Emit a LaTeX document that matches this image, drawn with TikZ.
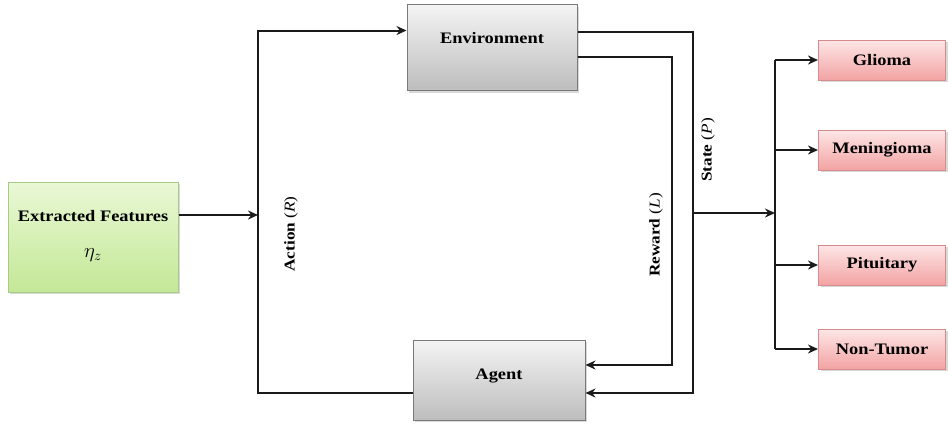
\documentclass[tikz,border=0pt]{standalone}
\usepackage{fontspec}
\setmainfont[FakeStretch=1.15]{Liberation Serif}
\usetikzlibrary{arrows.meta,shadows}
\definecolor{lineC}{HTML}{1A1A1A}
\definecolor{greyTop}{HTML}{F4F4F4}
\definecolor{greyBot}{HTML}{BDBDBD}
\definecolor{greyBd}{HTML}{7A7A7A}
\definecolor{greenTop}{HTML}{EAF8D6}
\definecolor{greenBot}{HTML}{C3E896}
\definecolor{greenBd}{HTML}{A8C98A}
\definecolor{pinkTop}{HTML}{FDE6E6}
\definecolor{pinkBot}{HTML}{F3A3A3}
\definecolor{pinkBd}{HTML}{D68C8C}
\tikzset{
  boxbase/.style={rectangle, line width=1pt, inner sep=2pt, align=center,
    font=\fontsize{16}{18}\selectfont\bfseries,
    drop shadow={shadow xshift=2pt, shadow yshift=-2pt, opacity=0.3}},
  greybox/.style={boxbase, draw=greyBd, top color=greyTop, bottom color=greyBot,
    minimum width=170pt, minimum height=86pt},
  agentbox/.style={boxbase, draw=greyBd, top color=greyTop, bottom color=greyBot,
    minimum width=172pt, minimum height=80pt},
  greenbox/.style={boxbase, draw=greenBd, top color=greenTop, bottom color=greenBot,
    minimum width=170pt, minimum height=110pt},
  pinkbox/.style={boxbase, draw=pinkBd, top color=pinkTop, bottom color=pinkBot,
    minimum width=127pt, minimum height=40pt},
  conn/.style={draw=lineC, line width=2pt},
  arr/.style={conn, -{Stealth[length=10pt,width=9pt]}},
  vlabel/.style={rotate=90, font=\fontsize{15}{17}\selectfont\bfseries, inner sep=0pt},
  boxtext/.style={font=\fontsize{16}{18}\selectfont\bfseries}
}
\begin{document}
\begin{tikzpicture}[x=1pt,y=-1pt]
\useasboundingbox (0,0) rectangle (948,426);

\node[greenbox] (feat) at (93,237) {};
\node[boxtext] (feattxt) at (93,216) {Extracted Features};
\node[font=\fontsize{22}{24}\selectfont] (eta) at (93,255) {$\eta_z$};

\node[greybox] (env) at (492,47.5) {};
\node[boxtext] (envtxt) at (492,38) {Environment};
\node[agentbox] (agent) at (499,380) {};
\node[boxtext] (agenttxt) at (499,376) {Agent};

\node[pinkbox] (glioma) at (882,60) {Glioma};
\node[pinkbox] (menin) at (882,150) {Meningioma};
\node[pinkbox] (pitu) at (882,265) {Pituitary};
\node[pinkbox] (nont) at (882,349) {Non-Tumor};

\coordinate (ax) at (258,215);
\coordinate (sx) at (693,213);
\coordinate (rx) at (672,213);
\coordinate (bx) at (775,213);

% action loop
\draw[arr] (feat.east |- ax) -- (ax);
\draw[arr] ([yshift=-13pt]agent.west) -| (ax) |- ([yshift=17pt]env.west);

% state and reward
\draw[arr] ([yshift=15.5pt]env.east) -| (sx) |- ([yshift=-13pt]agent.east);
\draw[arr] ([yshift=-9.5pt]env.east) -| (rx) |- ([yshift=15pt]agent.east);

% branch to classes
\draw[arr] (sx) -- (bx);
\draw[conn] (bx |- glioma.west) -- (bx |- nont.west);
\draw[arr] (bx |- glioma.west) -- (glioma.west);
\draw[arr] (bx |- menin.west) -- (menin.west);
\draw[arr] (bx |- pitu.west) -- (pitu.west);
\draw[arr] (bx |- nont.west) -- (nont.west);

% labels
\node[vlabel] (lact) at (291,234) {Action {\mdseries (\textit{R})}};
\node[vlabel] (lrew) at (656,235) {Reward {\mdseries (\textit{L})}};
\node[vlabel] (lsta) at (708,150) {State {\mdseries (\textit{P})}};
\end{tikzpicture}
\end{document}
